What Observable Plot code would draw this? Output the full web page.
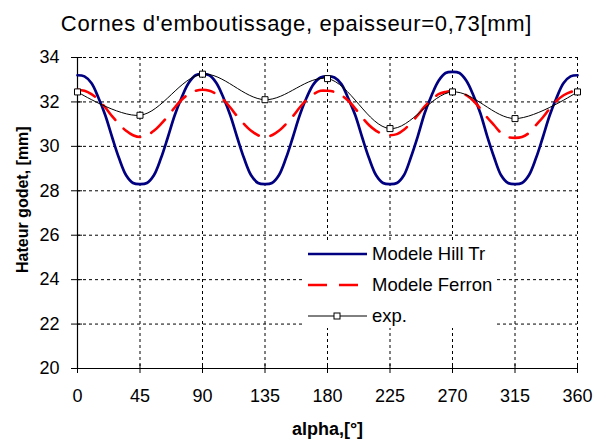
<!DOCTYPE html>
<html><head><meta charset="utf-8">
<script src="https://cdn.jsdelivr.net/npm/d3@7"></script>
<script src="https://cdn.jsdelivr.net/npm/@observablehq/plot@0.6"></script>
<style>
body{margin:0;background:#fff;width:593px;height:443px;overflow:hidden;position:relative;font-family:"Liberation Sans",Arial,sans-serif;color:#000}
#title{height:35px;box-sizing:border-box;padding-top:13px;font-size:22px;line-height:22px;text-align:center;letter-spacing:0.7px;white-space:nowrap}
#legend{position:absolute;left:302px;top:240px;width:195px;height:88px;background:#fff}
</style></head><body>
<div id="title">Cornes d'emboutissage, epaisseur=0,73[mm]</div>
<div id="chart"></div>
<div id="legend"></div>
<script>
const xTicks = [0, 45, 90, 135, 180, 225, 270, 315, 360];
const yTicks = [20, 22, 24, 26, 28, 30, 32, 34];
const alphaModel = [0,5,10,15,20,25,30,35,40,45,50,55,60,65,70,75,80,85,90,95,100,105,110,115,120,125,130,135,140,145,150,155,160,165,170,175,180,185,190,195,200,205,210,215,220,225,230,235,240,245,250,255,260,265,270,275,280,285,290,295,300,305,310,315,320,325,330,335,340,345,350,355,360];
const hillTr = [33.2,33.15,32.85,32.2,31.4,30.4,29.45,28.7,28.35,28.3,
  28.35,28.7,29.45,30.4,31.4,32.2,32.85,33.2,33.25,
  33.2,32.85,32.2,31.4,30.4,29.45,28.7,28.35,28.3,
  28.35,28.7,29.45,30.4,31.4,32.2,32.8,33.1,33.15,
  33.1,32.8,32.15,31.4,30.4,29.45,28.7,28.35,28.3,
  28.35,28.7,29.5,30.45,31.5,32.3,32.95,33.3,33.35,
  33.3,32.95,32.3,31.5,30.45,29.5,28.7,28.35,28.3,
  28.35,28.7,29.45,30.4,31.4,32.2,32.85,33.15,33.2];
const ferron = [32.55,32.5,32.35,32.1,31.75,31.35,31.0,30.7,30.5,30.42,
  30.5,30.7,31.0,31.35,31.75,32.1,32.35,32.5,32.55,
  32.5,32.35,32.1,31.75,31.35,31.0,30.7,30.5,30.42,
  30.5,30.7,31.0,31.35,31.75,32.1,32.35,32.5,32.5,
  32.45,32.3,32.05,31.7,31.3,30.95,30.7,30.55,30.5,
  30.55,30.75,31.05,31.4,31.8,32.1,32.35,32.45,32.5,
  32.45,32.3,32.05,31.7,31.3,30.95,30.6,30.42,30.38,
  30.42,30.6,30.95,31.3,31.7,32.05,32.3,32.45,32.5];
const alphaExp = [0, 45, 90, 135, 180, 225, 270, 315, 360];
const expValues = [32.45, 31.4, 33.25, 32.1, 33.05, 30.8, 32.45, 31.25, 32.45];
const seriesNames = ["Modele Hill Tr", "Modele Ferron", "exp."];
const xLabel = "alpha,[°]";
const yLabel = "Hateur godet, [mm]";

const hillData = alphaModel.map((a, i) => ({a, v: hillTr[i]}));
const ferronData = alphaModel.map((a, i) => ({a, v: ferron[i]}));
const expData = alphaExp.map((a, i) => ({a, v: expValues[i]}));

const grid = {stroke: "#000", strokeOpacity: 1, strokeWidth: 1, strokeDasharray: "3,3"};

const chart = Plot.plot({
  width: 593,
  height: 408,
  marginTop: 22,
  marginBottom: 75,
  marginLeft: 77,
  marginRight: 16,
  style: {fontFamily: "Liberation Sans, Arial, sans-serif", fontSize: "18px", color: "#000", background: "#fff"},
  x: {domain: [0, 360]},
  y: {domain: [20, 34]},
  marks: [
    Plot.gridX(xTicks, grid),
    Plot.gridY(yTicks, grid),
    Plot.ruleX([0], {stroke: "#000", strokeWidth: 1.2}),
    Plot.ruleY([20], {stroke: "#000", strokeWidth: 1.2}),
    Plot.axisX(xTicks, {tickSize: 5, tickPadding: 16, fontSize: 18, label: null, strokeWidth: 1}),
    Plot.axisX(xTicks, {tickSize: -4, tickFormat: () => "", label: null}),
    Plot.axisY(yTicks, {tickSize: 6, tickPadding: 12, fontSize: 18, label: null}),
    Plot.axisY(yTicks, {tickSize: -5, tickFormat: () => "", label: null}),
    Plot.line(hillData, {x: "a", y: "v", stroke: "#000080", strokeWidth: 2.7, curve: "catmull-rom"}),
    Plot.line(ferronData, {x: "a", y: "v", stroke: "#ff0000", strokeWidth: 2.6, strokeDasharray: "19,12", curve: "catmull-rom"}),
    Plot.line(expData, {x: "a", y: "v", stroke: "#000", strokeWidth: 1, curve: "catmull-rom"}),
    Plot.dot(expData, {x: "a", y: "v", symbol: "square", r: 3.4, fill: "#fff", stroke: "#000", strokeWidth: 1}),
    Plot.text([xLabel], {frameAnchor: "bottom", dy: 66, lineAnchor: "bottom", fontWeight: "bold", fontSize: 18}),
    Plot.text([yLabel], {frameAnchor: "middle", rotate: -90, dx: -300, dy: 60, lineAnchor: "bottom", textAnchor: "start", fontWeight: "bold", fontSize: 16})
  ]
});
document.getElementById("chart").appendChild(chart);

const legend = document.getElementById("legend");
const rows = [14, 45, 76];
legend.innerHTML = `<svg width="195" height="88" style="font-family:'Liberation Sans',Arial,sans-serif">
  <line x1="6" x2="65" y1="${rows[0]}" y2="${rows[0]}" stroke="#000080" stroke-width="2.7"/>
  <line x1="6" x2="65" y1="${rows[1]}" y2="${rows[1]}" stroke="#ff0000" stroke-width="2.6" stroke-dasharray="19,12"/>
  <line x1="6" x2="65" y1="${rows[2]}" y2="${rows[2]}" stroke="#000" stroke-width="1"/>
  <rect x="32" y="${rows[2]-3}" width="6" height="6" fill="#fff" stroke="#000"/>
  ${seriesNames.map((n, i) => `<text x="70" y="${rows[i]}" dy="0.35em" font-size="18.5" fill="#000">${n}</text>`).join("")}
</svg>`;
</script>
</body></html>
